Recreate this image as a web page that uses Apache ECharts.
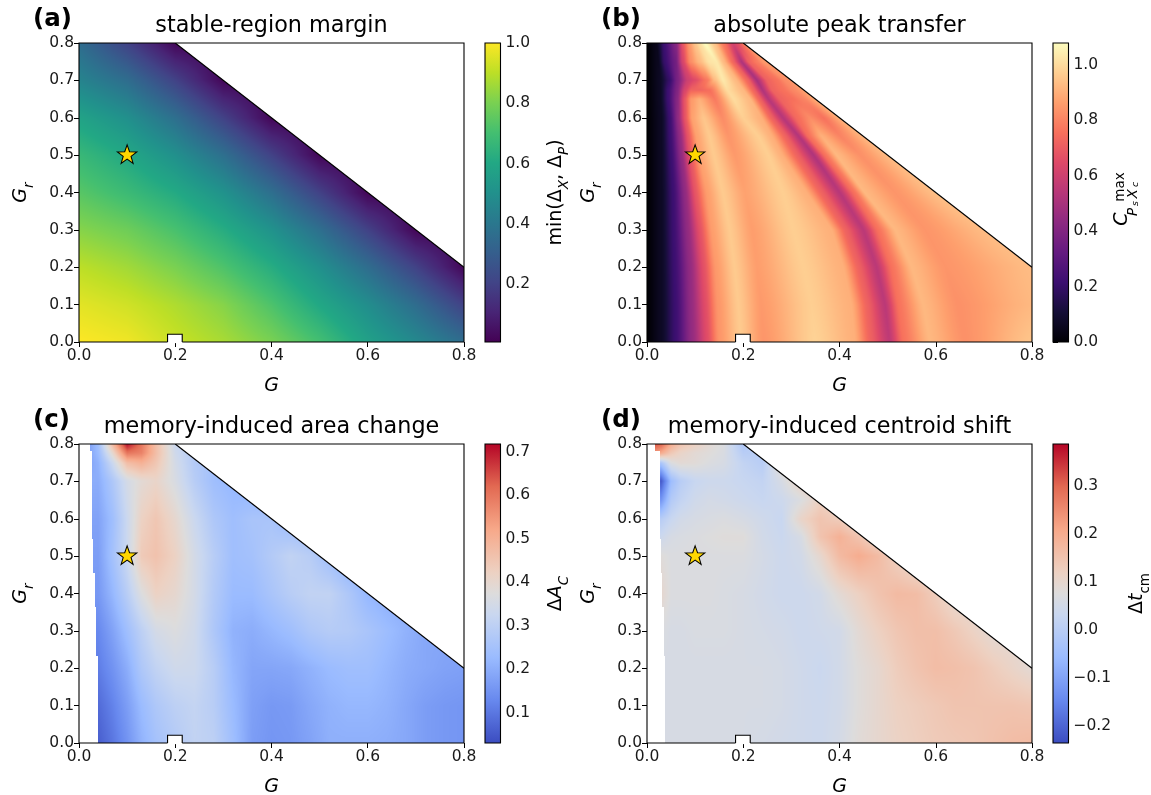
<!DOCTYPE html>
<html><head><meta charset="utf-8">
<script src="https://cdn.jsdelivr.net/npm/echarts@6/dist/echarts.min.js"></script>
<style>html,body{margin:0;padding:0;background:#fff}#c{width:1151px;height:795px}</style>
</head><body><div id="c"></div>
<script>
// ---------- colour maps ----------
const viridis=[[0,'#440154'],[.1,'#482475'],[.2,'#414487'],[.3,'#355f8d'],[.4,'#2a788e'],[.5,'#21918c'],[.6,'#22a884'],[.7,'#44bf70'],[.8,'#7ad151'],[.9,'#bddf26'],[1,'#fde725']];
const magma=[[0,'#000004'],[.1,'#140e36'],[.2,'#3b0f70'],[.3,'#641a80'],[.4,'#8c2981'],[.5,'#b73779'],[.6,'#de4968'],[.7,'#f7705c'],[.8,'#fe9f6d'],[.9,'#fecf92'],[1,'#fcfdbf']];
const coolwarm=[[0,'#3b4cc0'],[.143,'#6788ee'],[.286,'#9abbff'],[.429,'#c9d7f0'],[.5,'#dddcdc'],[.571,'#edd1c2'],[.714,'#f7a889'],[.857,'#e26952'],[1,'#b40426']];

// ---------- tick labels ----------
const xTicks=[0,.2,.4,.6,.8];
const yTicks=[0,.1,.2,.3,.4,.5,.6,.7,.8];
const cbTicksA=[.2,.4,.6,.8,1];
const cbTicksB=[0,.2,.4,.6,.8,1];
const cbTicksC=[.1,.2,.3,.4,.5,.6,.7];
const cbTicksD=[-.2,-.1,0,.1,.2,.3];

// ---------- shared marks ----------
const boundary=[[.2,.8],[.8,.2]];
const outside=[[.2,.8],[.8,.2],[.8,.8]];
const notch=[[.184,0],[.184,.0206],[.2145,.0206],[.2145,0]];
const notchFloor=-.003;
const star=[[.1,.5]];

// ---------- (a) stable-region margin ----------
const aGr=[0,.1,.2,.3,.4,.5,.6,.7,.8];
const aG=[0,.1,.2,.3,.4,.5,.6,.7,.8];
const aV=[
[1,.98,.92,.87,.8,.7,.57,.47,.36],
[.96,.93,.88,.82,.72,.6,.49,.36,.2],
[.9,.86,.8,.72,.62,.5,.36,.2,.02],
[.82,.78,.71,.62,.51,.37,.2,.02],
[.74,.68,.61,.51,.37,.2,.02],
[.67,.6,.5,.37,.2,.02],
[.58,.5,.37,.2,.02],
[.45,.36,.2,.02],
[.36,.2,.02]];

// ---------- (b) absolute peak transfer: ridge and valley tracks, row by row ----------
const bGr=[0,.1,.2,.3,.4,.5,.55,.6,.65,.675,.7,.75,.8];
const bG=[
[0,.03,.06,.094,.126,.15,.195,.242,.349,.432,.464,.504,.533,.588,.661,.8],
[0,.03,.06,.092,.122,.147,.19,.237,.342,.425,.457,.495,.523,.574,.647,.8],
[0,.03,.058,.09,.118,.143,.182,.229,.325,.408,.439,.477,.509,.55,.62,.8],
[0,.03,.056,.085,.11,.135,.172,.219,.304,.384,.412,.45,.481,.516,.578,.706],
[0,.03,.055,.08,.1,.125,.158,.204,.283,.332,.363,.401,.432,.453,.516,.606],
[0,.03,.051,.072,.089,.109,.139,.183,.252,.28,.311,.346,.37,.394,.443,.505],
[0,.03,.049,.069,.085,.103,.13,.169,.231,.259,.287,.315,.335,.363,.401,.457],
[0,.03,.048,.065,.079,.094,.118,.157,.2,.238,.259,.283,.311,.339,.367,.405],
[0,.028,.044,.063,.078,.092,.109,.141,.18,.214,.234,.252,.277,.301,.325,.353],
[0,.028,.044,.063,.078,.092,.109,.13,.167,.2,.222,.24,.26,.284,.304,.329],
[0,.027,.047,.063,.085,.1,.126,.141,.158,.185,.21,.228,.25,.27,.286,.304],
[0,.024,.036,.06,.074,.09,.109,.13,.145,.16,.18,.197,.212,.228,.243,.256],
[0,.02,.036,.061,.074,.088,.1,.108,.12,.14,.158,.178,.188,.194,.2,.204]];
const bV=[
[0,.07,.22,.45,.66,.84,.96,.84,.98,.9,.72,.56,.76,.92,.83,.95],
[0,.07,.22,.45,.66,.84,.96,.85,.97,.9,.72,.55,.76,.92,.83,.92],
[0,.07,.22,.45,.67,.85,.96,.86,.97,.9,.72,.55,.76,.92,.84,.93],
[0,.07,.22,.45,.67,.86,.96,.86,.97,.9,.72,.55,.76,.92,.84,.93],
[0,.07,.22,.45,.68,.86,.96,.87,.97,.9,.72,.54,.76,.92,.84,.94],
[0,.07,.22,.45,.68,.87,.96,.85,.97,.9,.72,.52,.76,.92,.83,.93],
[0,.07,.22,.45,.68,.87,.96,.84,.97,.9,.72,.53,.75,.9,.8,.93],
[0,.07,.22,.45,.68,.87,.95,.82,.97,.9,.72,.54,.74,.82,.76,.92],
[0,.07,.22,.42,.68,.85,.9,.78,1.0,.92,.72,.54,.72,.75,.8,.9],
[0,.07,.22,.4,.62,.72,.72,.75,1.0,.92,.72,.52,.72,.76,.81,.87],
[0,.07,.2,.38,.6,.65,.78,.93,1.03,.92,.72,.5,.72,.76,.82,.85],
[0,.06,.2,.36,.62,.82,.92,1.02,1.03,.92,.72,.52,.72,.78,.85,.85],
[0,.05,.22,.42,.68,.85,.95,1.0,1.08,.95,.78,.62,.65,.72,.8,.85]];

// ---------- (c) memory-induced area change ----------
const cGr=[0,.1,.2,.3,.4,.5,.6,.7,.75,.775,.8];
const cG=[.02,.04,.07,.1,.13,.16,.2,.24,.28,.32,.36,.4,.44,.48,.52,.56,.6,.64,.68,.72,.76,.8];
const cV=[
[null,.06,.10,.15,.21,.25,.28,.31,.30,.24,.17,.155,.16,.18,.205,.205,.205,.2,.19,.17,.16,.155],
[null,.08,.12,.17,.23,.27,.30,.315,.29,.23,.175,.16,.165,.19,.21,.22,.22,.21,.19,.17,.16,.155],
[null,.11,.15,.2,.27,.31,.34,.335,.29,.22,.185,.185,.19,.21,.23,.24,.24,.22,.2,.19,.18,.175],
[null,.13,.18,.24,.3,.35,.37,.34,.27,.21,.2,.22,.24,.27,.285,.28,.26,.235,.21,.19],
[null,.16,.22,.29,.37,.42,.4,.35,.28,.23,.23,.26,.29,.31,.31,.27,.22,.2],
[null,.17,.25,.33,.44,.46,.42,.35,.29,.24,.25,.28,.31,.29,.24,.2],
[null,.18,.24,.33,.42,.45,.4,.33,.27,.24,.26,.26,.22],
[null,.2,.27,.35,.39,.41,.36,.29,.24,.22,.2],
[.18,.21,.33,.47,.5,.45,.35,.28,.25],
[.18,.23,.4,.6,.58,.47,.34,.28,.25],
[.17,.24,.48,.71,.6,.47,.33,.28]];
const cStrip=[[0,.233,.040],[.233,.365,.036],[.365,.455,.033],[.455,.546,.030],[.546,.78,.028],[.78,.8,.023]];

// ---------- (d) memory-induced centroid shift ----------
const dGr=[0,.1,.2,.3,.4,.5,.55,.6,.65,.7,.75,.775,.8];
const dG=[.01,.03,.05,.07,.1,.13,.16,.2,.24,.28,.32,.36,.4,.44,.48,.52,.56,.6,.64,.68,.72,.76,.8];
const dV=[
[null,.06,.06,.06,.06,.06,.06,.06,.055,.05,.045,.04,.055,.085,.1,.115,.125,.135,.14,.145,.155,.165,.17],
[null,.06,.06,.06,.06,.06,.06,.06,.06,.055,.045,.04,.05,.08,.1,.12,.13,.14,.15,.15,.15,.15,.145],
[null,.06,.06,.06,.06,.06,.06,.06,.06,.055,.045,.035,.05,.08,.1,.13,.15,.165,.16,.15,.13,.11,.09],
[null,.07,.06,.06,.065,.065,.065,.06,.055,.05,.04,.045,.05,.09,.12,.145,.16,.16,.14,.115,.09],
[null,.1,.07,.07,.07,.07,.065,.06,.05,.04,.04,.05,.09,.12,.15,.17,.165,.13,.09],
[null,.08,.07,.07,.07,.07,.07,.07,.055,.04,.05,.1,.17,.2,.17,.12,.08],
[null,.04,.06,.065,.07,.075,.08,.08,.05,.035,.06,.15,.19,.15,.1],
[null,0,.03,.05,.06,.065,.07,.06,.045,.03,.11,.15,.13,.08],
[null,-.12,-.01,.02,.045,.055,.05,.04,.03,.04,.07,.12,.1],
[null,-.21,-.05,0,.03,.04,.04,.03,.02,.06,.12],
[null,-.02,.07,.09,.085,.07,.06,.02,0,.1],
[.25,.2,.14,.11,.09,.08,.065,0,0,.08],
[.33,.3,.2,.15,.12,.09,.07,-.02,.05]];
const dStrip=[[0,.233,.0374],[.233,.365,.035],[.365,.455,.032],[.455,.546,.030],[.546,.78,.027],[.78,.8,.0166]];

// ---------- rendering helpers ----------
const FONT='DejaVu Sans';
const hex=h=>[1,3,5].map(i=>parseInt(h.substr(i,2),16));
function buildLut(cm){
  const n=1024,l=new Uint8ClampedArray(n*3);
  for(let i=0;i<n;i++){
    const t=i/(n-1);let k=0;
    while(k<cm.length-2&&t>cm[k+1][0])k++;
    const a=hex(cm[k][1]),b=hex(cm[k+1][1]),u=(t-cm[k][0])/(cm[k+1][0]-cm[k][0]);
    for(let c=0;c<3;c++)l[i*3+c]=a[c]+(b[c]-a[c])*u;
  }
  return l;
}
function rowAt(gs,vs,G,ease){
  let s=0;while(s<vs.length&&vs[s]==null)s++;
  if(G<=gs[s])return vs[s];
  const last=Math.min(vs.length,gs.length)-1;
  if(G>=gs[last])return vs[last];
  let j=s;while(j<last-1&&G>gs[j+1])j++;
  let u=(G-gs[j])/(gs[j+1]-gs[j]);
  if(ease)u=.5*u+.5*u*u*(3-2*u);
  return vs[j]+(vs[j+1]-vs[j])*u;
}
function bandSeries(p,idx){
  const lut=buildLut(p.cmap),cache={};
  const data=p.gr.slice(0,-1).map((g,i)=>[g,p.gr[i+1]]);
  return {type:'custom',xAxisIndex:idx,yAxisIndex:idx,z:2,silent:true,clip:true,data,
    renderItem(params,api){
      const i=params.dataIndex;
      const lo=api.coord([0,p.gr[i]]),hi=api.coord([.8,p.gr[i+1]]);
      const x0=Math.round(lo[0]),x1=Math.round(hi[0]),y0=Math.round(hi[1]),y1=Math.round(lo[1]);
      const w=x1-x0,h=y1-y0;
      if(!cache[i]){
        const cv=document.createElement('canvas');cv.width=w;cv.height=h;
        const ctx=cv.getContext('2d'),im=ctx.createImageData(w,h);
        const grs=p.gRows?p.gRows:null;
        for(let y=0;y<h;y++){
          const f=1-(y+.5)/h; // 0 at lower row, 1 at upper row
          let gs,vs;
          if(grs){
            gs=grs[i].map((a,j)=>a+(grs[i+1][j]-a)*f);
            vs=p.v[i].map((a,j)=>a+(p.v[i+1][j]-a)*f);
          }
          for(let x=0;x<w;x++){
            const G=(x+.5)/w*.8;
            const v=grs?rowAt(gs,vs,G,true):rowAt(p.g,p.v[i],G)*(1-f)+rowAt(p.g,p.v[i+1],G)*f;
            let q=(v-p.lo)/(p.hi-p.lo);q=Math.max(0,Math.min(1,q));
            const n=Math.round(q*1023)*3,o=(y*w+x)*4;
            im.data[o]=lut[n];im.data[o+1]=lut[n+1];im.data[o+2]=lut[n+2];im.data[o+3]=255;
          }
        }
        ctx.putImageData(im,0,0);cache[i]=cv;
      }
      return {type:'image',style:{image:cache[i],x:x0,y:y0,width:w,height:h}};
    }};
}
const axisBase=(extra)=>Object.assign({type:'value',axisLine:{show:false},splitLine:{show:false}},extra);
const lab=(vals,m)=>({show:true,color:'#1a1a1a',fontFamily:FONT,fontSize:15.5,margin:m||5,formatter:fmt,customValues:vals});
const tick=(vals)=>({show:true,length:5,lineStyle:{color:'#000',width:1},customValues:vals});
const nameStyle={fontFamily:FONT,color:'#000',rich:{
  i:{fontFamily:FONT,fontStyle:'italic',fontSize:19,color:'#000',lineHeight:30,verticalAlign:'middle'},
  n:{fontFamily:FONT,fontSize:19,color:'#000',lineHeight:30,verticalAlign:'middle'},
  s:{fontFamily:FONT,fontStyle:'italic',fontSize:13.5,color:'#000',lineHeight:28,verticalAlign:'bottom'},
  u:{fontFamily:FONT,fontSize:13.5,color:'#000',lineHeight:28,verticalAlign:'bottom'}}};

const panels=[
 {key:'a',left:79,top:43,cbLeft:485,cmap:viridis,lo:.0075,hi:1,gr:aGr,g:aG,v:aV,ticks:cbTicksA,title:'stable-region margin',tag:'(a)',cbName:'{n|min(Δ}{s|X}{n|, Δ}{s|P}{n|)}',cbGap:41},
 {key:'b',left:647,top:43,cbLeft:1053,cmap:magma,lo:0,hi:1.079,gr:bGr,gRows:bG,v:bV,ticks:cbTicksB,title:'absolute peak transfer',tag:'(b)',cbName:'',cbGap:60},
 {key:'c',left:79,top:444,cbLeft:485,cmap:coolwarm,lo:.031,hi:.718,gr:cGr,g:cG,v:cV,strip:cStrip,ticks:cbTicksC,title:'memory-induced area change',tag:'(c)',cbName:'{n|Δ}{i|A}{s|C}',cbGap:41},
 {key:'d',left:647,top:444,cbLeft:1053,cmap:coolwarm,lo:-.235,hi:.3875,gr:dGr,g:dG,v:dV,strip:dStrip,ticks:cbTicksD,title:'memory-induced centroid shift',tag:'(d)',cbName:'{n|Δ}{i|t}{u|cm}',cbGap:54}];

const W=385,H=299,CBW=15.5;
const grid=[],xAxis=[],yAxis=[],series=[],title=[];
function fmt(v){return (v<-1e-9?'\u2212':'')+Math.abs(v).toFixed(1);}

panels.forEach((p,n)=>{
  const idx=xAxis.length;
  grid.push({left:p.left,top:p.top,width:W,height:H,outerBoundsMode:'none'});
  xAxis.push(axisBase({gridIndex:idx,min:0,max:.8,interval:.2,axisLabel:lab(xTicks,6),axisTick:tick(xTicks),
    name:'{i|G}',nameLocation:'middle',nameGap:29,nameTextStyle:nameStyle}));
  yAxis.push(axisBase({gridIndex:idx,min:0,max:.8,interval:.1,axisLabel:lab(yTicks),axisTick:tick(yTicks),
    name:'{i|G}{s|r}',nameLocation:'middle',nameGap:43,nameTextStyle:nameStyle}));
  series.push(bandSeries(p,idx));
  if(p.strip) series.push({type:'custom',xAxisIndex:idx,yAxisIndex:idx,z:3,silent:true,clip:true,data:p.strip,
    renderItem(params,api){
      const a=api.coord([0,api.value(1)]),b=api.coord([api.value(2),api.value(0)]);
      const x0=Math.round(a[0]),x1=Math.round(b[0]),y0=Math.round(a[1]),y1=Math.round(b[1]);
      return {type:'rect',shape:{x:x0,y:y0,width:x1-x0,height:y1-y0},style:{fill:'#fff'}};
    }});
  series.push({type:'custom',xAxisIndex:idx,yAxisIndex:idx,z:4,silent:true,clip:true,data:[0],
    renderItem(params,api){
      return {type:'group',children:[
        {type:'polygon',shape:{points:outside.map(q=>api.coord(q))},style:{fill:'#fff'}},
        {type:'polyline',shape:{points:boundary.map(q=>api.coord(q))},style:{fill:'none',stroke:'#000',lineWidth:1.2}}]};
    }});
  series.push({type:'custom',xAxisIndex:idx,yAxisIndex:idx,z:5,silent:true,clip:false,data:[0],
    renderItem(params,api){
      const a=api.coord([0,.8]),b=api.coord([.8,0]);
      return {type:'rect',shape:{x:a[0],y:a[1],width:b[0]-a[0],height:b[1]-a[1]},style:{fill:'none',stroke:'#000',lineWidth:1.1}};
    }});
  series.push({type:'custom',xAxisIndex:idx,yAxisIndex:idx,z:6,silent:true,clip:false,data:[0],
    renderItem(params,api){
      const f=[[notch[0][0],notchFloor],notch[1],notch[2],[notch[3][0],notchFloor]];
      return {type:'group',children:[
        {type:'polygon',shape:{points:f.map(q=>api.coord(q))},style:{fill:'#fff'}},
        {type:'polyline',shape:{points:notch.map(q=>api.coord(q))},style:{fill:'none',stroke:'#000',lineWidth:1.1}}]};
    }});
  series.push({type:'scatter',xAxisIndex:idx,yAxisIndex:idx,z:7,silent:true,data:star,
    symbol:'path://M10 0L12.35 6.76L19.51 6.91L13.8 11.24L15.88 18.09L10 14L4.12 18.09L6.2 11.24L.49 6.91L7.65 6.76Z',
    symbolSize:[19.5,18.6],symbolOffset:[0,-1],itemStyle:{color:'#ffd700',borderColor:'#000',borderWidth:1,opacity:1}});

  // colour bar
  const ci=xAxis.length;
  grid.push({left:p.cbLeft,top:p.top,width:CBW,height:H,outerBoundsMode:'none'});
  xAxis.push({type:'value',gridIndex:ci,min:0,max:1,show:false});
  yAxis.push(axisBase({gridIndex:ci,position:'right',min:p.lo,max:p.hi,axisLabel:lab(p.ticks),axisTick:tick(p.ticks),
    name:p.cbName,nameLocation:'middle',nameRotate:90,nameGap:p.cbGap,nameTextStyle:nameStyle}));
  series.push({type:'custom',xAxisIndex:ci,yAxisIndex:ci,z:5,silent:true,clip:false,data:[[0,p.lo,1,p.hi]],
    renderItem(params,api){
      const a=api.coord([0,api.value(3)]),b=api.coord([1,api.value(1)]);
      return {type:'rect',shape:{x:a[0],y:a[1],width:b[0]-a[0],height:b[1]-a[1]},
        style:{fill:new echarts.graphic.LinearGradient(0,1,0,0,p.cmap.map(c=>({offset:c[0],color:c[1]}))),stroke:'#000',lineWidth:1.1}};
    }});

  title.push({text:p.title,left:p.left+W/2,top:p.top-28,textAlign:'center',
    textStyle:{fontFamily:FONT,fontSize:22.3,fontWeight:'normal',color:'#000'},padding:0});
  title.push({text:p.tag,left:p.left-46,top:p.top-36,
    textStyle:{fontFamily:FONT,fontSize:24.5,fontWeight:'bold',color:'#000'},padding:0});
});

const rot=Math.PI/2;
const cLabel=[
 {t:'C',x:1122.5,y:219,s:{fontFamily:FONT,fontStyle:'italic',fontSize:19,fill:'#000'}},
 {t:'max',x:1120,y:187,s:{fontFamily:FONT,fontSize:13.5,fill:'#000'}},
 {t:'P',x:1133,y:212,s:{fontFamily:FONT,fontStyle:'italic',fontSize:13.5,fill:'#000'}},
 {t:'s',x:1136,y:203.5,s:{fontFamily:FONT,fontStyle:'italic',fontSize:9.5,fill:'#000'}},
 {t:'X',x:1133,y:194,s:{fontFamily:FONT,fontStyle:'italic',fontSize:13.5,fill:'#000'}},
 {t:'c',x:1136,y:184.5,s:{fontFamily:FONT,fontStyle:'italic',fontSize:9.5,fill:'#000'}}];
const graphic=cLabel.map(l=>({type:'text',x:l.x,y:l.y,rotation:rot,z:10,
  style:Object.assign({text:l.t,textAlign:'center',textVerticalAlign:'middle'},l.s)}));

const chart=echarts.init(document.getElementById('c'),null,{renderer:'canvas'});
chart.setOption({animation:false,backgroundColor:'#fff',grid,xAxis,yAxis,series,title,graphic});
</script></body></html>
